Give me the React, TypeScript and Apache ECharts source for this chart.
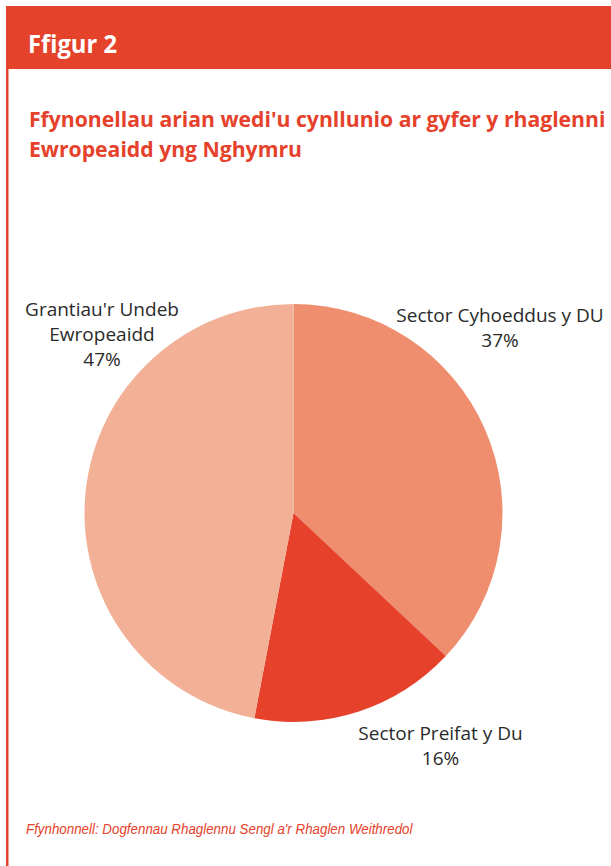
import React, { useEffect, useRef } from "react";
import * as echarts from "echarts";

const categories = ["Sector Cyhoeddus y DU", "Sector Preifat y Du", "Grantiau'r Undeb\nEwropeaidd"];
const values = [37, 16, 47];
const colors = ["#EE8E6E", "#E5412B", "#F2B196"];
const labelPos = [
  { x: 500, y: 327 },
  { x: 440.5, y: 745 },
  { x: 102, y: 334 },
];

export default function App() {
  const ref = useRef<HTMLDivElement>(null);
  useEffect(() => {
    const chart = echarts.init(ref.current!, null, { renderer: "svg" });
    chart.setOption({
      animation: false,
      backgroundColor: "#ffffff",
      graphic: [
        { type: "rect", shape: { x: 6, y: 6, width: 605, height: 63 }, style: { fill: "#E4422B" } },
        { type: "rect", shape: { x: 6, y: 6, width: 2.5, height: 860 }, style: { fill: "#E4422B" } },
        {
          type: "text", x: 28, y: 43, scaleX: 0.95,
          style: { text: "Ffigur 2", fill: "#ffffff", font: "bold 25px 'Open Sans', sans-serif", verticalAlign: "middle" },
        },
        {
          type: "text", x: 29, y: 103, scaleX: 0.963,
          style: {
            text: "Ffynonellau arian wedi'u cynllunio ar gyfer y rhaglenni\nEwropeaidd yng Nghymru",
            fill: "#E5412B", font: "bold 22px 'Open Sans', sans-serif", lineHeight: 30,
          },
        },
        {
          type: "text", x: 26, y: 829, scaleX: 0.89,
          style: {
            text: "Ffynhonnell: Dogfennau Rhaglennu Sengl a'r Rhaglen Weithredol",
            fill: "#E5412B", font: "italic 15px 'Liberation Sans', sans-serif", verticalAlign: "middle",
          },
        },
      ],
      series: [
        {
          type: "pie",
          center: [293.5, 513],
          radius: 209,
          startAngle: 90,
          clockwise: true,
          data: categories.map((c, i) => ({ name: c, value: values[i], itemStyle: { color: colors[i] } })),
          itemStyle: { borderWidth: 0 },
          label: {
            show: true,
            formatter: "{b}\n{c}%",
            color: "#2a2a2a",
            fontSize: 19,
            fontFamily: "'Open Sans', sans-serif",
            lineHeight: 25,
            align: "center",
            width: 260,
            overflow: "none",
          },
          labelLine: { show: false },
          labelLayout: (p: any) => ({ x: labelPos[p.dataIndex].x, y: labelPos[p.dataIndex].y, align: "center", verticalAlign: "middle" }),
        },
      ],
    });
    return () => chart.dispose();
  }, []);
  return <div ref={ref} style={{ position: "absolute", left: 0, top: 0, width: 611, height: 866 }} />;
}
